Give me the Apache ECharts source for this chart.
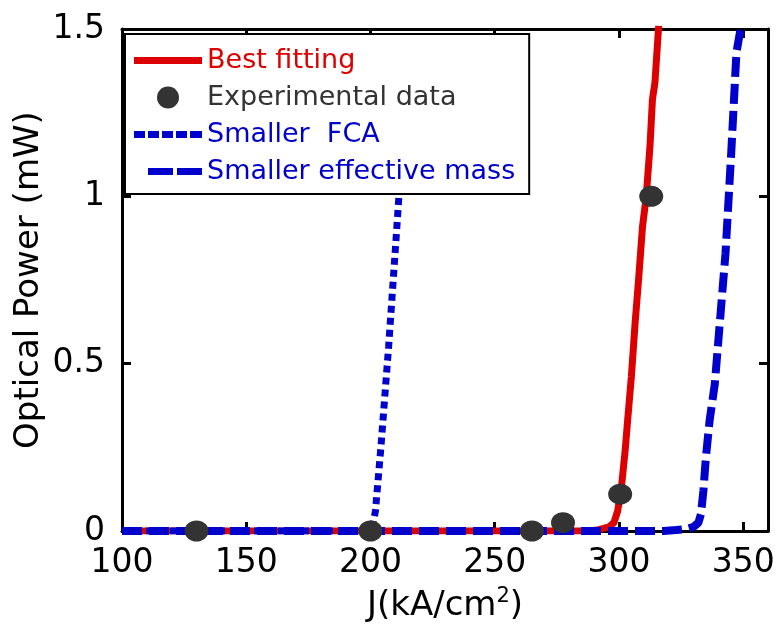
<!DOCTYPE html>
<html><head><meta charset="utf-8">
<script src="https://cdn.jsdelivr.net/npm/echarts@6/dist/echarts.min.js"></script>
<style>html,body{margin:0;padding:0;background:#fff}#c{width:780px;height:628px}</style>
</head><body><div id="c"></div>
<script>
// ---- data ----
const xTicks = [100, 150, 200, 250, 300, 350];
const yTicks = [0, 0.5, 1, 1.5];

const fitJ = [100, 288, 292, 296, 298, 299.5, 301, 302.5, 303.5, 305, 306.5, 308, 309.5, 311, 312.5, 313.5, 314.5, 316];
const fitP = [0, 0, 0.004, 0.012, 0.025, 0.06, 0.13, 0.24, 0.33, 0.46, 0.62, 0.76, 0.91, 1.0, 1.15, 1.29, 1.34, 1.51];

const expJ = [130, 200, 265, 277.5, 300.5, 313];
const expP = [0, 0, 0, 0.025, 0.11, 1.0];

const fcaJ = [100, 200, 201, 202, 204.2, 207.3, 210, 212, 214, 215.5];
const fcaP = [0, 0, 0.02, 0.06, 0.25, 0.55, 0.84, 1.06, 1.28, 1.42];

const emJ = [100, 318, 323, 327, 330, 332, 333, 334, 335, 336.5, 338.6, 340.8, 342.9, 345.2, 347.3, 349.2];
const emP = [0, 0, 0.003, 0.006, 0.012, 0.025, 0.05, 0.12, 0.22, 0.33, 0.44, 0.64, 0.83, 1.13, 1.43, 1.51];

const names = ['Best fitting', 'Experimental data', 'Smaller  FCA', 'Smaller effective mass'];
const nameColors = ['#dd0000', '#333333', '#0000cc', '#0000cc'];

// ---- build ----
const pairs = (a, b) => a.map((v, i) => [v, b[i]]);
const FONT = 'DejaVu Sans';
const axisLine = { show: true, onZero: false, lineStyle: { color: '#000', width: 3 } };
const tickIn = (vals) => ({ show: true, inside: true, length: 9, lineStyle: { color: '#000', width: 3 }, customValues: vals });

// legend icon shapes (line samples)
const iconSolid = 'path://M0,0h68v7h-68z';
const iconDotted = 'path://M0,0h11v7h-11zM14,0h11v7h-11zM28,0h11v7h-11zM42,0h11v7h-11zM56,0h12v7h-12z';
const iconDashed = 'path://M0,0M14,0h25v7h-25zM43,0h25v7h-25z';
const icons = [iconSolid, 'circle', iconDotted, iconDashed];

const chart = echarts.init(document.getElementById('c'), null, { renderer: 'canvas' });
chart.setOption({
  animation: false,
  backgroundColor: '#fff',
  grid: { left: 122, right: 12, top: 29, bottom: 94, containLabel: false },
  xAxis: [
    {
      type: 'value', min: 100, max: 360, interval: 50, position: 'bottom',
      axisLine, axisTick: tickIn(xTicks), splitLine: { show: false },
      axisLabel: { color: '#000', fontFamily: FONT, fontSize: 33, margin: 16, customValues: xTicks },
      name: '{a|J(kA/cm}{s|2}{a|)}', nameLocation: 'middle', nameGap: 55, nameMoveOverlap: false,
      nameTextStyle: {
        rich: {
          a: { fontFamily: FONT, fontSize: 34, color: '#000', lineHeight: 40 },
          s: { fontFamily: FONT, fontSize: 21, color: '#000', verticalAlign: 'top', lineHeight: 40 }
        }
      }
    },
    {
      type: 'value', min: 100, max: 360, interval: 50, position: 'top',
      axisLine, axisTick: tickIn(xTicks), axisLabel: { show: false }, splitLine: { show: false }
    }
  ],
  yAxis: [
    {
      type: 'value', min: 0, max: 1.5, interval: 0.5, position: 'left',
      axisLine, axisTick: tickIn(yTicks), splitLine: { show: false },
      axisLabel: { color: '#000', fontFamily: FONT, fontSize: 33, margin: 17, customValues: yTicks },
      name: 'Optical Power (mW)', nameLocation: 'middle', nameGap: 76, nameMoveOverlap: false,
      nameTextStyle: { fontFamily: FONT, fontSize: 34, color: '#000' }
    },
    {
      type: 'value', min: 0, max: 1.5, interval: 0.5, position: 'right',
      axisLine, axisTick: tickIn(yTicks), axisLabel: { show: false }, splitLine: { show: false }
    }
  ],
  legend: {
    orient: 'vertical', left: 125, top: 34,
    padding: [13, 14, 9, 9],
    itemWidth: 68, itemHeight: 22, itemGap: 10,
    backgroundColor: '#fff', borderColor: '#000', borderWidth: 2,
    textStyle: { fontFamily: FONT, fontSize: 27, lineHeight: 22 },
    data: names.map((n, i) => ({ name: n, icon: icons[i], textStyle: { color: nameColors[i] } }))
  },
  series: [
    {
      name: names[0], type: 'line', data: pairs(fitJ, fitP), symbol: 'none', z: 3,
      lineStyle: { color: '#dd0000', width: 7 }, itemStyle: { color: '#dd0000' }
    },
    {
      name: names[2], type: 'line', data: pairs(fcaJ, fcaP), symbol: 'none', z: 3,
      lineStyle: { color: '#0000cc', width: 7, type: [7, 5], cap: 'butt' }, itemStyle: { color: '#0000cc' }
    },
    {
      name: names[3], type: 'line', data: pairs(emJ, emP), symbol: 'none', z: 3,
      lineStyle: { color: '#0000cc', width: 8, type: [20, 7], cap: 'butt' }, itemStyle: { color: '#0000cc' }
    },
    {
      name: names[1], type: 'scatter', data: pairs(expJ, expP), symbol: 'circle', symbolSize: [24, 21], z: 4,
      itemStyle: { color: '#333333', opacity: 1 }
    }
  ]
});
</script>
</body></html>
